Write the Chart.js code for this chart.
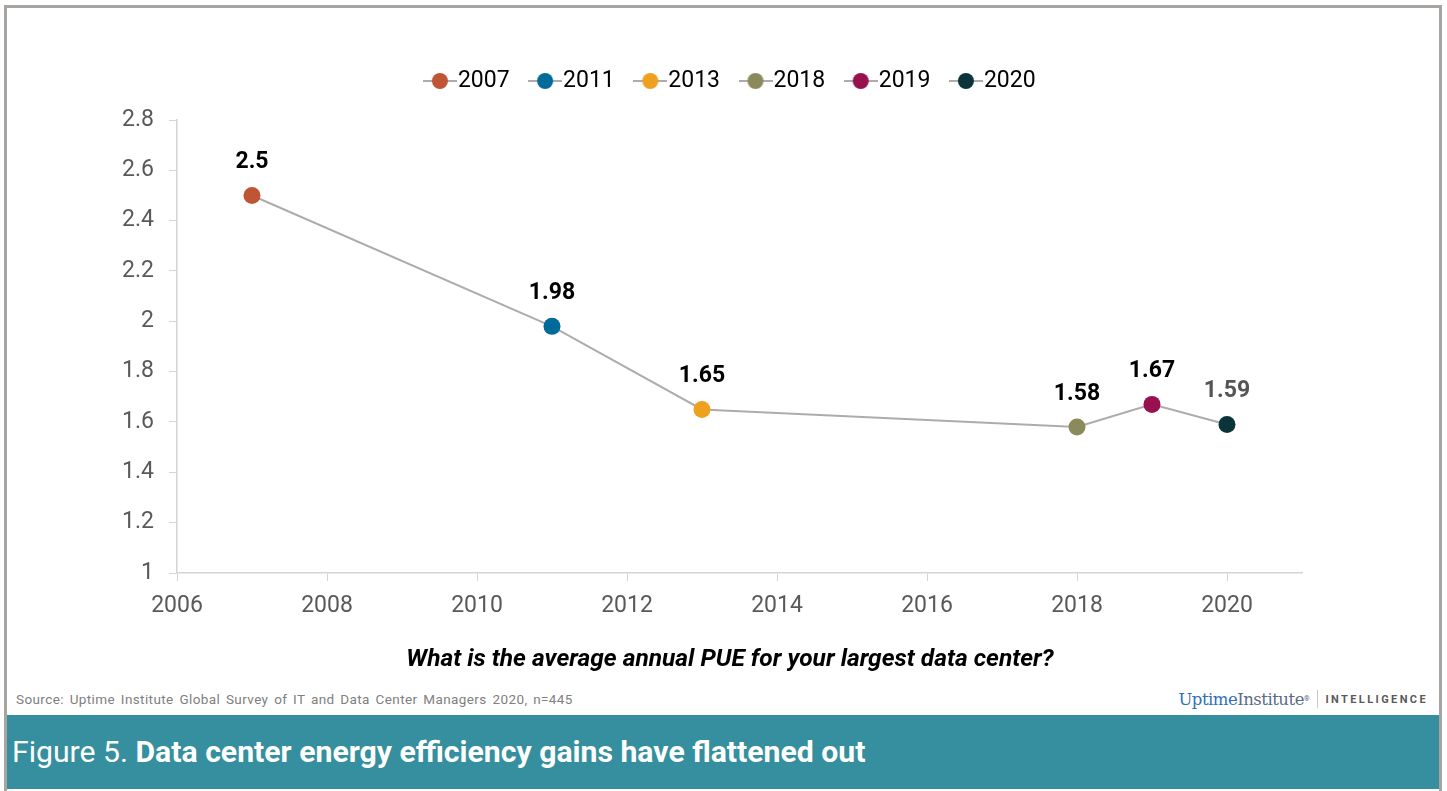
<!DOCTYPE html>
<html>
<head>
<meta charset="utf-8">
<title>Figure 5</title>
<script src="https://cdn.jsdelivr.net/npm/chart.js@4.4.1/dist/chart.umd.min.js"></script>
<style>
  html, body { margin:0; padding:0; background:#fff; }
  body { width:1447px; height:791px; position:relative; overflow:hidden; font-family: Roboto, "Noto Sans", sans-serif; }
  #frame { position:absolute; left:4px; top:5px; width:1438px; height:800px; border:3px solid #a8a4a1; box-sizing:border-box; }
  #wrap { position:absolute; left:0; top:0; width:1447px; height:680px; }
  #pregunta { position:absolute; left:330px; width:800px; top:646px; text-align:center; font-size:24.5px; line-height:24px; font-weight:bold; font-style:italic; color:#000; white-space:nowrap; }
  #source { position:absolute; left:16px; top:693px; font-size:13.5px; line-height:13px; letter-spacing:0.4px; word-spacing:2px; color:#808080; white-space:nowrap; }
  #logo { position:absolute; right:19px; top:689px; height:20px; display:flex; align-items:center; white-space:nowrap; }
  #logo .up { font-family:"DejaVu Serif", serif; font-size:16.5px; color:#2f6fc0; letter-spacing:-0.5px; }
  #logo .inst { font-family:"DejaVu Serif", serif; font-size:16.5px; color:#5b6b86; letter-spacing:-0.5px; }
  #logo sup { font-size:7px; color:#5b6b86; }
  #logo .sep { display:inline-block; width:1px; height:18px; background:#c8c8c8; margin:0 7px 0 8px; }
  #logo .intel { font-family:Roboto, sans-serif; font-weight:bold; font-size:11px; letter-spacing:2.4px; color:#595959; }
  #band { position:absolute; left:7px; top:715px; width:1432px; height:74px; background:#358f9e; }
  #band div { position:absolute; left:5px; top:22px; font-size:30.2px; line-height:30px; color:#fff; white-space:nowrap; }
  #band b { font-weight:bold; }
</style>
</head>
<body>
<div id="frame"></div>
<div id="wrap"><canvas id="grafico"></canvas></div>
<div id="pregunta">What is the average annual PUE for your largest data center?</div>
<div id="source">Source: Uptime Institute Global Survey of IT and Data Center Managers 2020, n=445</div>
<div id="logo"><span class="up">Uptime</span><span class="inst">Institute</span><sup>®</sup><span class="sep"></span><span class="intel">INTELLIGENCE</span></div>
<div id="band"><div>Figure 5. <b>Data center energy efficiency gains have flattened out</b></div></div>

<script>
// ----------------- DATOS -----------------
const years = [2007, 2011, 2013, 2018, 2019, 2020];
const pue = [2.5, 1.98, 1.65, 1.58, 1.67, 1.59];
const yTicks = [1, 1.2, 1.4, 1.6, 1.8, 2, 2.2, 2.4, 2.6, 2.8];
const xTicks = [2006, 2008, 2010, 2012, 2014, 2016, 2018, 2020];

// colores por punto (estilo, no datos)
const pointColors = ['#bf5535', '#006b99', '#efa01f', '#8b8a5c', '#98104d', '#08343a'];
const labelColors = ['#000', '#000', '#000', '#000', '#000', '#555'];
const lineGray = '#b0abab';
const axisGray = '#d4d4d4';
const textGray = '#595959';

// icono de leyenda: linea + circulo (como Excel)
function legendIcon(color){
  const c = document.createElement('canvas');
  c.width = 34; c.height = 18;
  const g = c.getContext('2d');
  g.strokeStyle = lineGray; g.lineWidth = 2;
  g.beginPath(); g.moveTo(0, 9); g.lineTo(34, 9); g.stroke();
  g.fillStyle = color;
  g.beginPath(); g.arc(17, 9, 8, 0, Math.PI * 2); g.fill();
  return c;
}
const legendIcons = pointColors.map(legendIcon);

// etiquetas de datos encima de cada punto
const pointLabels = {
  id: 'pointLabels',
  afterDatasetsDraw(chart){
    const ctx = chart.ctx;
    const meta = chart.getDatasetMeta(0);
    ctx.save();
    ctx.font = 'bold 23px Roboto';
    ctx.textAlign = 'center';
    ctx.textBaseline = 'middle';
    meta.data.forEach((pt, i) => {
      ctx.fillStyle = labelColors[i];
      ctx.fillText(String(pue[i]), pt.x, pt.y - 33);
    });
    ctx.restore();
  }
};

// leyenda: altura fija y centrada como en el original
const legendBox = {
  id: 'legendBox',
  beforeLayout(chart){
    const lg = chart.legend;
    if (lg && !lg._patched){
      const fit = lg.fit;
      lg.fit = function(){ fit.call(this); this.height = 79.5; };
      lg._patched = true;
    }
  },
  afterLayout(chart){
    if (chart.legend){ chart.legend.left = 167; chart.legend.right = 1302; }
  }
};

const ctx = document.getElementById('grafico');
new Chart(ctx, {
  type: 'line',
  data: {
    datasets: [{
      label: 'PUE',
      data: years.map((y, i) => ({ x: y, y: pue[i] })),
      borderColor: lineGray,
      borderWidth: 2,
      tension: 0,
      fill: false,
      pointRadius: 8.5,
      pointHoverRadius: 8.5,
      pointBorderWidth: 0,
      pointBackgroundColor: pointColors
    }]
  },
  options: {
    responsive: true,
    maintainAspectRatio: false,
    animation: false,
    layout: { padding: { left: 117, right: 145, top: 40.5, bottom: 0 } },
    plugins: {
      tooltip: { enabled: false },
      legend: {
        position: 'top',
        labels: {
          usePointStyle: true,
          pointStyleWidth: 13,
          padding: 29,
          color: textGray,
          font: { family: 'Roboto', size: 23 },
          generateLabels: () => years.map((y, i) => ({
            text: String(y),
            pointStyle: legendIcons[i],
            fillStyle: pointColors[i],
            strokeStyle: pointColors[i],
            lineWidth: 0,
            hidden: false,
            datasetIndex: 0
          }))
        },
        onClick: () => {}
      }
    },
    scales: {
      x: {
        type: 'linear',
        min: 2006,
        max: 2021,
        afterBuildTicks: s => { s.ticks = xTicks.map(v => ({ value: v })); },
        afterFit: s => { s.height = 107; },
        grid: { display: true, drawOnChartArea: false, drawTicks: true, tickLength: 8, tickColor: axisGray },
        border: { display: true, color: axisGray, width: 1.5 },
        ticks: {
          color: textGray,
          padding: 11,
          font: { family: 'Roboto', size: 23 },
          maxRotation: 0,
          callback: v => String(v)
        }
      },
      y: {
        min: 1,
        max: 2.8,
        afterBuildTicks: s => { s.ticks = yTicks.map(v => ({ value: v })); },
        afterFit: s => { s.width = 60; },
        grid: { display: true, drawOnChartArea: false, drawTicks: true, tickLength: 8, tickColor: axisGray },
        border: { display: true, color: axisGray, width: 1.5 },
        ticks: {
          color: textGray,
          padding: 15,
          font: { family: 'Roboto', size: 23 },
          callback: v => String(+v.toFixed(1))
        }
      }
    }
  },
  plugins: [pointLabels, legendBox]
});
</script>
</body>
</html>
